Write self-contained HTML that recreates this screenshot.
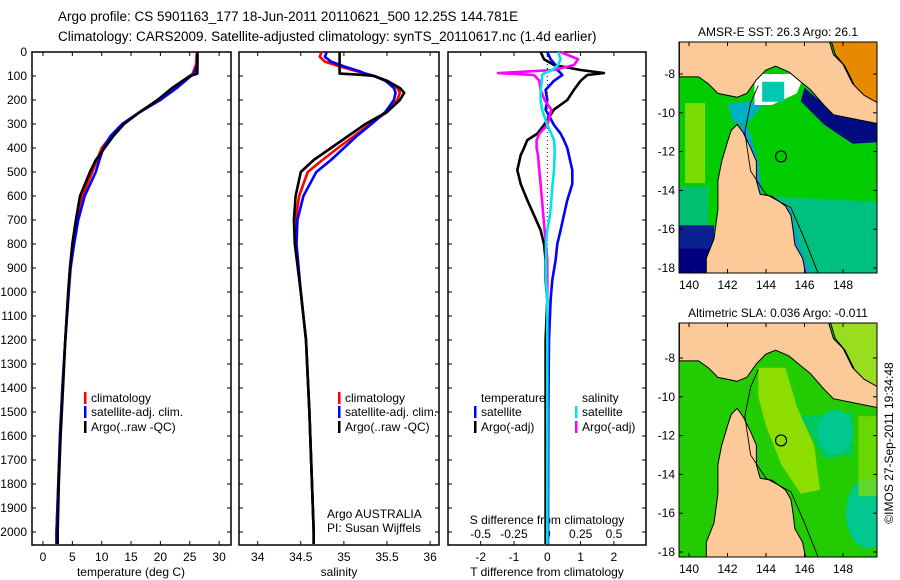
<!DOCTYPE html>
<html><head><meta charset="utf-8"><style>
body{margin:0;background:#fff;}
svg{display:block;font-family:"Liberation Sans",sans-serif;}
</style></head><body>
<svg id="c" width="900" height="580" viewBox="0 0 900 580">
<text x="58" y="21" font-size="13.5">Argo profile: CS 5901163_177 18-Jun-2011 20110621_500 12.25S 144.781E</text>
<text x="58" y="41" font-size="13.5">Climatology: CARS2009. Satellite-adjusted climatology: synTS_20110617.nc (1.4d earlier)</text>
<g id="g"></g>
</svg>
<script>
// ---- data ----
const tDepths=[0,50,90,100,150,200,250,300,350,400,450,500,600,700,800,900,1000,1200,1400,1600,1800,2000,2050];
const tArgo=[26.3,26.3,26.3,25,22,19.5,16.5,13.8,12,10.5,9,8,6.3,5.6,5,4.6,4.3,3.8,3.4,3.0,2.7,2.5,2.5];
const tClim=[26.2,26.1,25.5,25,22.5,19.8,16.5,13.6,11.6,10,9.2,8.4,6.7,5.8,5.1,4.6,4.3,3.8,3.3,2.9,2.6,2.3,2.3];
const tSat=[26.3,26.3,25.8,25.2,22.8,20,16.5,13.5,11.5,10.3,9.6,9,7.1,6,5.3,4.7,4.4,3.8,3.3,2.9,2.6,2.3,2.3];
const sDepths=[0,20,40,60,80,90,95,100,120,150,170,200,250,300,350,400,450,500,600,700,800,1000,1200,1500,1800,2000,2050];
const sArgo=[34.95,34.95,34.95,34.95,34.95,34.95,35.2,35.35,35.5,35.65,35.7,35.65,35.5,35.25,35.05,34.85,34.65,34.5,34.44,34.42,34.43,34.5,34.56,34.6,34.63,34.65,34.65];
const sClim=[34.74,34.72,34.78,34.95,35.15,35.25,35.3,35.35,35.5,35.62,35.65,35.62,35.5,35.3,35.12,34.93,34.75,34.58,34.48,34.44,34.44,34.5,34.56,34.6,34.63,34.65,34.65];
const sSat=[34.8,34.78,34.85,35.0,35.18,35.25,35.3,35.35,35.48,35.58,35.6,35.58,35.48,35.32,35.15,35.0,34.85,34.68,34.53,34.46,34.45,34.5,34.56,34.6,34.63,34.65,34.65];
const dDepths=[0,30,54,75,88,96,120,158,200,240,304,340,367,400,430,492,550,617,680,742,800,867,950,1033,1200,1500,2050];
const dTArgo=[-0.2,-0.1,0.2,1.0,1.7,1.2,1.0,0.8,0.6,0.2,-0.1,-0.3,-0.6,-0.7,-0.8,-0.9,-0.8,-0.6,-0.4,-0.2,-0.1,-0.05,-0.05,0,-0.05,-0.05,-0.05];
const dTSat=[0,0.1,0.25,0.3,0.4,0.45,0.2,-0.05,0.0,-0.05,0.2,0.4,0.5,0.6,0.65,0.75,0.75,0.6,0.5,0.4,0.3,0.25,0.15,0.1,0.05,0.03,0.02];
const dSArgo=[0.1,0.23,0.2,0.05,-0.37,-0.1,-0.06,-0.05,-0.02,0.03,0,-0.06,-0.08,-0.08,-0.07,-0.06,-0.05,-0.04,-0.03,-0.02,-0.01,0,0,0,0,0,0];
const dSSat=[0.08,0.1,0.08,0.04,-0.02,-0.04,-0.04,-0.05,-0.05,-0.04,0,0.03,0.05,0.055,0.055,0.05,0.04,0.03,0.02,0.0,-0.01,-0.01,-0.01,0,0,0,0];
const depthTicks=[0,100,200,300,400,500,600,700,800,900,1000,1100,1200,1300,1400,1500,1600,1700,1800,1900,2000];
const tTicks=[0,5,10,15,20,25,30];
const sTicks=[34,34.5,35,35.5,36];
const sTickLabels=["34","34.5","35","35.5","36"];
const dTTicks=[-2,-1,0,1,2];
const dSTicks=[-0.5,-0.25,0,0.25,0.5];
const dSTickLabels=["-0.5","-0.25","0","0.25","0.5"];
const latTicks=[-8,-10,-12,-14,-16,-18];
const lonTicks=[140,142,144,146,148];

const NS='http://www.w3.org/2000/svg';
const G=document.getElementById('g');
function mk(tag,attrs,parent){const e=document.createElementNS(NS,tag);for(const k in attrs)e.setAttribute(k,attrs[k]);(parent||G).appendChild(e);return e;}
function txt(x,y,s,size,anchor,parent){const e=mk('text',{x:x,y:y,'font-size':size||12,'text-anchor':anchor||'start'},parent);e.textContent=s;return e;}

const TOP=52,BOT=545;
const yD=d=>TOP+d*0.24;
const xT=v=>43+v*5.87;
const xS=v=>257.7+(v-34)*86.2;
const xDT=v=>547.3+v*33.3;
const xDS=v=>547.3+v*133.3;

function frame(x1,x2,name){const r=mk('rect',{x:x1,y:TOP,width:x2-x1,height:BOT-TOP,fill:'none',stroke:'#000','stroke-width':1.5});

}
function line(xs,ds,fx,col,name,w){
 const pts=xs.map((v,i)=>fx(v).toFixed(1)+','+yD(ds[i]).toFixed(1)).join(' ');
 const p=mk('polyline',{points:pts,fill:'none',stroke:col,'stroke-width':w||2.6,'stroke-linejoin':'round'});
 
 
}
frame(32,231,'temperature-panel');
frame(239,439,'salinity-panel');
frame(448,646,'difference-panel');
depthTicks.forEach(d=>{
 const y=yD(d);
 [[32,1],[231,-1],[239,1],[439,-1],[448,1],[646,-1]].forEach(([x,s])=>mk('line',{x1:x,y1:y,x2:x+4*s,y2:y,stroke:'#000'}));
 const t=txt(27,y+4,String(d),12,'end');
 
 
});
tTicks.forEach(v=>{const x=xT(v);mk('line',{x1:x,y1:BOT,x2:x,y2:BOT-4,stroke:'#000'});mk('line',{x1:x,y1:TOP,x2:x,y2:TOP+4,stroke:'#000'});
 const t=txt(x,561,String(v),12,'middle');
 
 });
sTicks.forEach((v,i)=>{const x=xS(v);mk('line',{x1:x,y1:BOT,x2:x,y2:BOT-4,stroke:'#000'});mk('line',{x1:x,y1:TOP,x2:x,y2:TOP+4,stroke:'#000'});
 const t=txt(x,561,sTickLabels[i],12,'middle');
 
 });
dTTicks.forEach(v=>{const x=xDT(v);mk('line',{x1:x,y1:BOT,x2:x,y2:BOT-4,stroke:'#000'});mk('line',{x1:x,y1:TOP,x2:x,y2:TOP+4,stroke:'#000'});
 const t=txt(x,561,String(v),12,'middle');
 
 });
dSTicks.forEach((v,i)=>{const x=xDS(v);
 const t=txt(x,538,dSTickLabels[i],12,'middle');
 
 });
[[131,576,'temperature (deg C)','temperature-axis-title'],[339,576,'salinity','salinity-axis-title'],[547,576,'T difference from climatology','t-diff-axis-title'],[547,524,'S difference from climatology','s-diff-axis-title']].forEach(a=>{const t=txt(a[0],a[1],a[2],12,'middle');
 
 });
const z=mk('line',{x1:xDT(0),y1:TOP,x2:xDT(0),y2:BOT,stroke:'#000','stroke-dasharray':'1,3'});


line(tClim,tDepths,xT,'#ff0000','temperature-climatology-line');
line(tSat,tDepths,xT,'#0000ff','temperature-satellite-line');
line(tArgo,tDepths,xT,'#000000','temperature-argo-line');
line(sClim,sDepths,xS,'#ff0000','salinity-climatology-line');
line(sSat,sDepths,xS,'#0000ff','salinity-satellite-line');
line(sArgo,sDepths,xS,'#000000','salinity-argo-line');
line(dTArgo,dDepths,xDT,'#000000','t-diff-argo-line');
line(dTSat,dDepths,xDT,'#0000ff','t-diff-satellite-line');
line(dSArgo,dDepths,xDS,'#ff00ff','s-diff-argo-line');
line(dSSat,dDepths,xDS,'#00e5e5','s-diff-satellite-line');
function leg(x,y,col,label,name){mk('rect',{x:x,y:y-10,width:2.5,height:12,fill:col});const t=txt(x+7,y,label,12);
 
 }
leg(84,402,'#ff0000','climatology','legend-climatology');
leg(84,416,'#0000ff','satellite-adj. clim.','legend-satellite-adj');
leg(84,431,'#000000','Argo(..raw -QC)','legend-argo');
leg(338,402,'#ff0000','climatology','legend2-climatology');
leg(338,416,'#0000ff','satellite-adj. clim.','legend2-satellite-adj');
leg(338,431,'#000000','Argo(..raw -QC)','legend2-argo');
txt(481,402,'temperature',12);
txt(582,402,'salinity',12);
leg(474,416,'#0000ff','satellite','legend-t-satellite');
leg(474,431,'#000000','Argo(-adj)','legend-t-argo');
leg(575,416,'#00e5e5','satellite','legend-s-satellite');
leg(575,431,'#ff00ff','Argo(-adj)','legend-s-argo');
txt(327,518,'Argo AUSTRALIA',12);
txt(327,532,'PI: Susan Wijffels',12);

const australia=[[140.9,-18.5],[140.9,-17.5],[141.3,-16.5],[141.5,-15],[141.5,-13.5],[141.7,-12.5],[142.0,-11.5],[142.2,-10.9],[142.5,-10.6],[142.8,-11],[143.2,-11.8],[143.5,-12.5],[143.5,-13.5],[143.7,-14.2],[144.3,-14.3],[145.0,-14.8],[145.3,-15.3],[145.4,-16],[145.5,-16.8],[145.9,-17.5],[146.1,-18.5]];
const png=[[139.5,-6],[139.5,-8.15],[140.5,-8.15],[141,-8.5],[141.5,-9],[142.5,-9.2],[143,-9],[143.5,-8.3],[144,-7.8],[144.5,-7.6],[145.2,-7.9],[145.8,-8.4],[146.3,-8.8],[147,-9.6],[147.5,-10.1],[148.5,-10.3],[150,-10.6],[150,-9.5],[149,-9],[148.5,-8.5],[148,-7.5],[147.5,-7],[147.2,-6]];
const contour=[[143.6,-8.6],[143.2,-9.5],[142.9,-11],[143.2,-13],[144,-14.2],[145.3,-14.9],[146,-16.5],[146.8,-18.5]];
function drawMap(id,top,bottom,latY8,title,sst){
 const L=679,R=877;const px=lon=>689+(lon-140)*19.25;const py=lat=>latY8+(-8-lat)*19.4;
 const P=a=>a.map(p=>px(p[0]).toFixed(1)+','+py(p[1]).toFixed(1)).join(' ');
 const cp=mk('clipPath',{id:id});mk('rect',{x:L,y:top,width:R-L,height:bottom-top},cp);
 const g=mk('g',{'clip-path':'url(#'+id+')'});
 
 
 mk('rect',{x:L,y:top,width:R-L,height:bottom-top,fill:sst?'#00cc00':'#22cc00'},g);
 if(sst){
  mk('rect',{x:px(139.8),y:py(-9.5),width:20,height:80,fill:'#99e000',opacity:0.8},g);
  mk('rect',{x:L,y:py(-13.8),width:px(141)-L,height:40,fill:'#00c070'},g);
  mk('polygon',{points:P([[139.5,-15.8],[141.3,-15.8],[141.3,-18.5],[139.5,-18.5]]),fill:'#0a2090'},g);
  mk('polygon',{points:P([[139.5,-17],[141.3,-17],[141.3,-18.5],[139.5,-18.5]]),fill:'#000080'},g);
  mk('polygon',{points:P([[144,-14.3],[150,-14.6],[150,-18.5],[146,-18.5]]),fill:'#00c080'},g);
  mk('polygon',{points:P([[143,-10.6],[143.6,-12.5],[143.8,-14.3],[145.3,-15],[145.8,-17],[146.5,-18.5],[145.8,-18.5],[145.2,-16],[144.5,-14.6],[143.4,-14],[143.2,-12],[142.6,-10.6]]),fill:'#10a0d0'},g);
  mk('polygon',{points:P([[146,-8.7],[147.5,-10],[150,-10.4],[150,-11.5],[148.5,-11.6],[147,-10.6],[145.8,-9.4]]),fill:'#000c80'},g);
  mk('polygon',{points:P([[142,-9.5],[144,-9.4],[143,-10.6],[142.3,-10.5]]),fill:'#00b0c0'},g);
  mk('polygon',{points:P([[143.4,-8],[146,-8],[145.6,-9.0],[144.3,-9.6],[143.4,-9.6]]),fill:'#ffffff'},g);
  mk('rect',{x:px(143.8),y:py(-8.4),width:22,height:20,fill:'#00c8b0'},g);
 } else {
  mk('polygon',{points:P([[143.6,-8.5],[145,-8.5],[145.6,-10.5],[146.5,-12.5],[146.8,-14.8],[145.8,-15],[144.8,-13.5],[144,-11.5],[143.6,-10]]),fill:'#a0e000',opacity:0.85},g);
  mk('polygon',{points:P([[145.8,-11],[148.5,-10.8],[148.5,-13],[147,-13.2]]),fill:'#00c860'},g);
  mk('ellipse',{cx:px(147.6),cy:py(-11.8),rx:18,ry:22,fill:'#00c890'},g);
  mk('ellipse',{cx:px(149.3),cy:py(-16),rx:22,ry:35,fill:'#00c890'},g);
  mk('rect',{x:px(148.8),y:py(-11),width:30,height:80,fill:'#88dd00',opacity:0.7},g);
 }
 mk('polygon',{points:P(australia),fill:'#fcca98',stroke:'#000','stroke-width':1},g);
 mk('polygon',{points:P(png),fill:'#fcca98',stroke:'#000','stroke-width':1},g);
 const ne=[[147.3,-6],[147.6,-7],[148.1,-7.6],[148.6,-8.6],[149.1,-9.1],[150,-9.6],[150,-6]];
 mk('polygon',{points:P(ne),fill:sst?'#e88a00':'#99dd20'},g);
 mk('polyline',{points:P(ne.slice(0,6)),fill:'none',stroke:'#000'},g);
 mk('polyline',{points:P(contour),fill:'none',stroke:'#000','stroke-width':0.9},g);
 const c=mk('circle',{cx:px(144.781),cy:py(-12.25),r:5.5,fill:'none',stroke:'#000','stroke-width':1.2},g);
 
 
 mk('rect',{x:L,y:top,width:R-L,height:bottom-top,fill:'none',stroke:'#000'});
 latTicks.forEach(v=>{const y=py(v);mk('line',{x1:L,y1:y,x2:L+4,y2:y,stroke:'#000'});mk('line',{x1:R,y1:y,x2:R-4,y2:y,stroke:'#000'});
  const t=txt(L-4,y+4,String(v),12,'end');
  
  });
 lonTicks.forEach(v=>{const x=px(v);mk('line',{x1:x,y1:bottom,x2:x,y2:bottom-4,stroke:'#000'});mk('line',{x1:x,y1:top,x2:x,y2:top+4,stroke:'#000'});
  const t=txt(x,bottom+16,String(v),12,'middle');
  
  });
 const tt=txt(778,top-6,title,12,'middle');
 
 
}
drawMap('m1',42,273,74,'AMSR-E SST: 26.3 Argo: 26.1',true);
drawMap('m2',323,557,358,'Altimetric SLA: 0.036 Argo: -0.011',false);
const cr=txt(0,0,'©IMOS 27-Sep-2011 19:34:48',12,'middle');
cr.setAttribute('transform','translate(893,443) rotate(-90)');


</script>
</body></html>
